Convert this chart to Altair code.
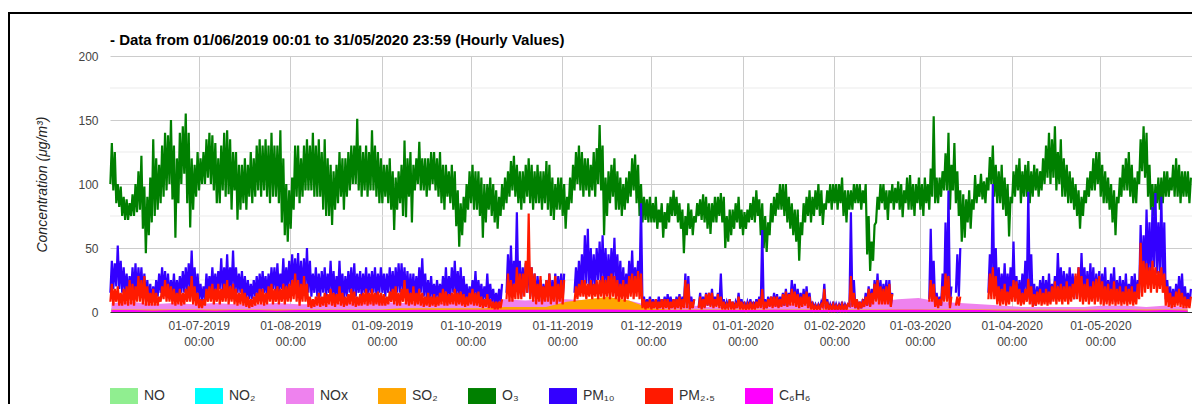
import altair as alt
import pandas as pd

TITLE = "- Data from 01/06/2019 00:01 to 31/05/2020 23:59 (Hourly Values)"
Y_TITLE = "Concentration (μg/m³)"
SERIES = ["NO", "NO₂", "NOx", "SO₂", "O₃", "PM₁₀", "PM₂.₅", "C₆H₆"]
COLORS = ["#90ee90", "#00ffff", "#ee82ee", "#ffa500", "#008000", "#3300ff", "#ff1a00", "#ff00ff"]
MONTH_TICKS = [(2019, 7), (2019, 8), (2019, 9), (2019, 10), (2019, 11), (2019, 12),
               (2020, 1), (2020, 2), (2020, 3), (2020, 4), (2020, 5)]
Y_MAJOR = [0, 50, 100, 150, 200]
Y_MINOR = [25, 75, 125, 175]
N = None

# ---- daily low / high envelopes of the hourly values (Jun 2019 ... May 2020) ----
O3_LO = [
    100, 95, 85, 82, 75, 72, 72, 75, 75, 78, 80, 65, 46, 60, 70, 75, 80, 85, 90, 95, 100, 88, 58, 85, 100, 108, 85, 66, 80, 90,
    95, 100, 100, 105, 100, 95, 85, 85, 95, 90, 92, 80, 95, 72, 80, 85, 80, 90, 85, 90, 95, 90, 95, 90, 85, 90, 90, 85, 70, 60, 55,
    65, 80, 90, 85, 90, 95, 95, 95, 90, 90, 90, 80, 75, 75, 68, 80, 85, 90, 80, 90, 95, 100, 100, 95, 90, 95, 90, 95, 95, 90, 85,
    85, 90, 85, 80, 64, 80, 85, 75, 74, 90, 70, 95, 100, 95, 95, 90, 95, 100, 95, 90, 85, 80, 90, 85, 80, 67, 51, 60, 70, 80,
    85, 80, 80, 75, 58, 70, 80, 75, 70, 65, 75, 80, 85, 90, 95, 90, 85, 80, 85, 90, 85, 80, 85, 85, 80, 85, 80, 75, 72, 80, 80,
    75, 65, 80, 85, 95, 100, 95, 90, 95, 90, 95, 90, 100, 95, 60, 75, 85, 90, 80, 80, 75, 80, 85, 90, 95, 85, 75, 70, 72, 70,
    70, 70, 65, 70, 58, 65, 70, 75, 75, 70, 65, 46, 60, 65, 60, 70, 75, 72, 70, 65, 61, 70, 70, 75, 70, 50, 55, 60, 65, 70, 65,
    60, 65, 70, 72, 70, 75, 60, 50, 47, 60, 70, 75, 80, 80, 75, 70, 65, 60, 55, 40, 60, 70, 75, 70, 75, 80, 75, 68, 80, 85, 80,
    85, 80, 85, 75, 70, 80, 80, 85, 85, 80, 85, 45, 32, 40, 70, 80, 85, 80, 72, 85, 80, 85, 80, 74, 85, 80, 80, 75, 85,
    80, 75, 85, 80, 90, 85, 85, 90, 95, 95, 80, 95, 85, 75, 55, 58, 70, 65, 80, 85, 90, 88, 85, 95, 100, 90, 85, 85, 80, 75, 59,
    85, 90, 95, 85, 90, 90, 85, 90, 95, 90, 95, 100, 105, 100, 105, 95, 100, 90, 90, 85, 85, 80, 75, 65, 75, 85, 90, 95, 95, 100,
    90, 85, 85, 80, 70, 60, 85, 90, 95, 95, 90, 85, 85, 100, 110, 105, 90, 80, 75, 85, 80, 85, 90, 90, 95, 90, 90, 85, 90, 90, 85,
]
O3_HI = [
    132, 125, 100, 98, 90, 88, 85, 92, 100, 110, 122, 98, 90, 105, 135, 120, 115, 130, 140, 138, 150, 130, 120, 140, 145, 155, 140, 120, 115, 125,
    120, 125, 135, 140, 138, 132, 120, 130, 140, 142, 135, 125, 125, 115, 115, 120, 115, 125, 120, 130, 135, 130, 135, 130, 140, 130, 130, 142, 120, 100, 95,
    105, 130, 130, 120, 130, 135, 130, 140, 130, 135, 125, 135, 120, 115, 110, 115, 125, 120, 120, 125, 130, 130, 151, 130, 125, 130, 125, 142, 130, 125, 120,
    115, 115, 120, 110, 105, 110, 115, 134, 120, 125, 115, 120, 133, 120, 120, 120, 125, 125, 120, 125, 115, 115, 110, 115, 110, 95, 85, 90, 100, 110,
    115, 110, 110, 105, 100, 100, 105, 100, 95, 90, 100, 105, 110, 118, 122, 115, 110, 110, 115, 120, 115, 110, 115, 110, 110, 118, 115, 105, 100, 105, 105,
    100, 90, 105, 115, 125, 130, 125, 120, 120, 115, 125, 128, 146, 130, 105, 110, 115, 120, 110, 105, 100, 105, 110, 120, 123, 115, 100, 90, 88, 90,
    85, 90, 80, 85, 78, 85, 90, 95, 90, 85, 80, 75, 85, 80, 75, 85, 88, 92, 90, 85, 85, 90, 90, 93, 90, 75, 80, 80, 85, 90, 80,
    78, 80, 85, 90, 95, 88, 85, 75, 70, 85, 90, 93, 100, 100, 100, 90, 85, 80, 80, 70, 85, 90, 95, 90, 95, 100, 95, 85, 95, 100, 100,
    100, 100, 105, 95, 95, 95, 100, 100, 100, 95, 100, 75, 55, 68, 90, 100, 100, 95, 95, 100, 97, 102, 100, 95, 105, 107, 100, 100, 105,
    100, 105, 100, 112, 153, 105, 105, 110, 124, 140, 115, 132, 110, 95, 92, 88, 95, 88, 107, 100, 108, 102, 105, 121, 130, 115, 110, 115, 105, 100, 90,
    110, 115, 120, 110, 115, 118, 110, 115, 112, 110, 120, 130, 140, 135, 145, 125, 135, 120, 115, 110, 105, 100, 95, 90, 95, 105, 110, 120, 125, 125,
    115, 110, 105, 100, 95, 90, 105, 115, 120, 125, 115, 105, 110, 135, 145, 140, 115, 100, 100, 105, 105, 110, 110, 105, 115, 120, 115, 110, 110, 110, 105,
]
PM10_LO = [
    15, 18, 20, 18, 15, 15, 12, 15, 15, 12, 15, 12, 10, 8, 8, 10, 12, 15, 15, 12, 10, 12, 10, 12, 15, 15, 15, 18, 15, 12,
    10, 8, 10, 15, 15, 15, 15, 18, 15, 18, 15, 18, 15, 15, 15, 12, 10, 10, 10, 12, 12, 15, 15, 12, 15, 18, 15, 15, 18, 15, 18,
    20, 20, 18, 15, 15, 18, 15, 12, 15, 12, 12, 15, 12, 15, 12, 10, 12, 12, 10, 12, 15, 12, 12, 15, 12, 15, 12, 15, 15, 12, 15,
    15, 12, 15, 15, 12, 15, 15, 15, 12, 10, 12, 10, 12, 15, 12, 10, 10, 10, 10, 10, 10, 12, 10, 12, 15, 12, 12, 10, 10, 8,
    10, 12, 10, 10, 8, 10, 8, 8, 6, 5, 8, N, 15, 15, 15, 20, 15, 12, 15, 15, 12, 12, 10, 12, 8, 10, 12, 10, 12, 10, 12,
    10, N, N, N, 15, 15, 18, 20, 22, 20, 18, 20, 25, 22, 20, 18, 20, 25, 20, 15, 12, 12, 15, 18, 15, 18, 20, 5, 3, 4,
    3, 4, 3, 4, 5, 4, 5, 4, 3, 5, 4, 5, 5, 3, 4, N, 4, 3, 4, 5, 5, 4, 5, 5, 3, 3, 4, 3, 3, 4, 3,
    3, 3, 4, 3, 3, 5, 5, 4, 3, 5, 5, 5, 4, 5, 5, 5, 8, 8, 6, 5, 5, 6, 5, 3, 3, 3, 3, 5, 3, 2, 2,
    2, 2, 3, 2, 3, 5, 5, 3, 3, 3, 5, 5, 5, 8, 10, 8, 8, 10, 8, 5, N, N, N, N, N, N, N, N, N,
    N, N, N, 10, 10, 5, 5, 5, 10, 10, 5, N, 15, 12, N, N, N, N, N, N, N, N, N, 15, 20, 15, 10, 10, 12, 10, 12,
    15, 10, 8, 10, 12, 15, 10, 6, 5, 8, 10, 8, 10, 8, 10, 12, 15, 12, 10, 15, 12, 10, 15, 12, 15, 12, 12, 15, 10, 12,
    10, 12, 8, 10, 10, 8, 10, 8, 10, 8, 10, 12, 10, 15, 25, 25, 30, 25, 35, 30, 30, 25, 10, 8, 5, 6, 8, 10, 6, 5, 5,
]
PM10_HI = [
    40, 38, 52, 40, 35, 30, 28, 35, 38, 35, 35, 30, 25, 22, 20, 25, 30, 35, 32, 30, 25, 30, 25, 28, 32, 35, 38, 48, 35, 30,
    22, 20, 30, 28, 35, 30, 32, 42, 35, 45, 35, 48, 35, 30, 32, 28, 25, 22, 25, 28, 30, 32, 28, 30, 35, 35, 38, 30, 42, 35, 40,
    45, 42, 46, 40, 42, 50, 40, 30, 35, 30, 32, 35, 30, 40, 32, 28, 40, 30, 28, 32, 35, 38, 30, 32, 30, 35, 30, 32, 35, 30, 35,
    30, 30, 35, 32, 35, 38, 38, 35, 32, 30, 30, 28, 35, 42, 30, 25, 28, 22, 25, 22, 28, 35, 28, 35, 40, 32, 35, 28, 22, 20,
    25, 32, 25, 22, 20, 30, 22, 18, 15, 18, 22, N, 45, 52, 40, 78, 40, 35, 38, 45, 35, 30, 28, 25, 22, 25, 30, 25, 30, 28, 30,
    30, N, N, N, 35, 40, 45, 60, 65, 50, 45, 50, 55, 60, 50, 45, 50, 58, 45, 40, 35, 30, 40, 48, 35, 40, 85, 12, 10, 12,
    10, 10, 12, 10, 12, 14, 12, 10, 12, 14, 12, 30, 28, 12, 10, N, 15, 12, 15, 15, 18, 12, 15, 30, 10, 8, 10, 8, 8, 15, 10,
    8, 8, 10, 8, 10, 12, 64, 10, 12, 12, 15, 14, 12, 15, 18, 15, 25, 22, 18, 15, 18, 20, 15, 8, 6, 6, 8, 22, 10, 6, 8,
    6, 6, 8, 6, 6, 78, 25, 10, 8, 10, 15, 20, 18, 25, 30, 25, 22, 25, 25, 15, N, N, N, N, N, N, N, N, N,
    N, N, N, 65, 40, 15, 12, 30, 70, 95, 20, N, 45, 50, N, N, N, N, N, N, N, N, N, 45, 100, 50, 35, 30, 38, 30, 35,
    55, 28, 25, 30, 40, 94, 45, 22, 20, 25, 28, 25, 30, 22, 28, 46, 35, 32, 30, 35, 30, 28, 35, 46, 35, 32, 38, 35, 30, 32,
    30, 35, 25, 30, 35, 25, 28, 25, 30, 22, 28, 30, 25, 68, 60, 80, 70, 82, 93, 70, 90, 70, 25, 20, 18, 22, 28, 30, 20, 15, 18,
]
PM25_LO = [
    8, 5, 8, 5, 5, 6, 5, 6, 5, 8, 8, 6, 5, 5, 5, 5, 5, 8, 10, 8, 8, 6, 5, 6, 5, 6, 8, 8, 6, 5,
    3, 3, 5, 8, 8, 6, 8, 6, 8, 8, 6, 8, 6, 5, 6, 5, 4, 3, 4, 5, 6, 6, 5, 6, 8, 6, 8, 6, 8, 6, 8,
    8, 10, 8, 5, 8, 8, 4, 3, 4, 5, 4, 5, 4, 6, 5, 4, 6, 5, 4, 5, 6, 5, 4, 5, 5, 6, 5, 6, 5, 6, 5,
    5, 5, 6, 8, 6, 5, 5, 8, 6, 5, 6, 5, 6, 5, 4, 5, 4, 5, 4, 5, 6, 5, 5, 6, 6, 5, 6, 5, 4, 5,
    6, 5, 5, 4, 3, 4, 3, 3, 2, 2, 3, N, 10, 8, 8, 10, 10, 10, 12, 15, 10, 8, 6, 8, 6, 8, 8, 6, 8, 6, 8,
    6, N, N, N, 8, 10, 12, 12, 10, 12, 10, 12, 10, 12, 10, 12, 10, 12, 10, 8, 10, 8, 10, 12, 10, 12, 10, 3, 2, 3,
    2, 3, 2, 3, 2, 3, 2, 3, 2, 3, 2, 3, 3, 2, 3, N, 3, 2, 3, 5, 4, 3, 4, 3, 2, 2, 3, 2, 2, 3, 2,
    2, 2, 2, 2, 2, 3, 3, 2, 3, 4, 3, 4, 3, 4, 5, 4, 5, 5, 4, 3, 4, 5, 3, 2, 2, 2, 2, 4, 2, 2, 2,
    2, 2, 2, 2, 2, 5, 4, 3, 2, 3, 4, 5, 4, 6, 8, 6, 6, 6, 6, 4, N, N, N, N, N, N, N, N, N,
    N, N, N, 8, 8, 4, 3, 5, 8, 8, 3, N, 5, 5, N, N, N, N, N, N, N, N, N, 10, 10, 10, 6, 5, 6, 5, 6,
    8, 8, 6, 5, 6, 8, 6, 4, 5, 6, 5, 6, 5, 6, 8, 6, 8, 6, 8, 6, 8, 10, 10, 8, 6, 8, 6, 8, 6, 8,
    6, 5, 6, 5, 6, 5, 6, 5, 6, 5, 6, 5, 6, 10, 12, 15, 18, 15, 18, 15, 18, 15, 5, 4, 3, 4, 5, 4, 3, 3, 3,
]
PM25_HI = [
    22, 18, 20, 15, 18, 20, 25, 22, 20, 28, 25, 28, 20, 15, 18, 15, 12, 20, 25, 22, 20, 18, 15, 18, 15, 18, 20, 28, 20, 15,
    10, 10, 18, 20, 22, 18, 22, 18, 22, 25, 20, 22, 18, 15, 18, 15, 12, 10, 12, 15, 18, 18, 15, 20, 22, 18, 20, 18, 22, 20, 22,
    25, 30, 25, 22, 28, 22, 12, 10, 12, 15, 12, 15, 14, 18, 15, 14, 20, 15, 12, 14, 18, 16, 12, 14, 15, 18, 15, 18, 15, 16, 15,
    14, 12, 16, 18, 20, 15, 18, 25, 18, 15, 20, 15, 18, 15, 12, 15, 12, 14, 12, 15, 18, 16, 14, 15, 18, 15, 16, 14, 12, 15,
    18, 15, 16, 12, 10, 14, 10, 8, 8, 8, 10, N, 30, 25, 22, 35, 30, 30, 40, 77, 35, 30, 22, 28, 20, 25, 30, 20, 28, 22, 25,
    25, N, N, N, 20, 22, 25, 25, 22, 25, 22, 25, 25, 28, 25, 28, 30, 28, 25, 22, 25, 22, 28, 30, 28, 32, 30, 10, 8, 10,
    8, 10, 8, 10, 10, 10, 8, 10, 10, 12, 10, 25, 22, 8, 10, N, 12, 10, 14, 15, 15, 10, 14, 12, 8, 6, 10, 8, 6, 12, 8,
    6, 6, 8, 6, 8, 10, 18, 8, 10, 12, 12, 12, 10, 14, 16, 14, 18, 16, 14, 12, 14, 16, 12, 6, 5, 5, 6, 18, 8, 5, 6,
    5, 5, 6, 5, 6, 28, 15, 10, 8, 8, 12, 18, 15, 22, 25, 20, 18, 20, 22, 14, N, N, N, N, N, N, N, N, N,
    N, N, N, 25, 22, 12, 10, 20, 30, 28, 12, N, 12, 12, N, N, N, N, N, N, N, N, N, 30, 35, 28, 20, 18, 22, 16, 20,
    25, 24, 18, 15, 18, 26, 20, 14, 16, 18, 15, 18, 16, 20, 24, 20, 22, 20, 24, 20, 22, 30, 35, 28, 22, 26, 20, 24, 26, 28,
    24, 20, 22, 18, 24, 18, 20, 16, 20, 18, 20, 16, 22, 54, 40, 38, 35, 40, 35, 32, 35, 30, 20, 15, 12, 16, 18, 15, 12, 10, 12,
]

# ---- weekly upper envelopes of the small series (lower envelope is ~0) ----
NO_HI = [2, 2, 1, 2, 2, 1, 2, 2, 1, 2, 2, 2, 2, 2, 2, 3, 2, 3, 3, 3, 3, 3, 4, 4, 4, 3, 2, 2, 2, 2, 2, 2, 3, 2, 2, 2, 2, 2, 3, 3,
         2, 2, 2, 1, 1, 1, 1, 1, 2, 2, 1, 2, 1]
NO2_HI = [3, 3, 2, 3, 3, 2, 3, 3, 2, 3, 3, 3, 3, 3, 3, 4, 3, 4, 4, 5, 5, 5, 6, 6, 6, 5, 3, 3, 3, 3, 3, 3, 4, 3, 3, 3, 3, 4, 5, 5,
          4, 3, 3, 2, 2, 2, 2, 2, 3, 3, 2, 3, 2]
NOX_HI = [7, 8, 6, 7, 6, 7, 6, 6, 7, 6, 6, 7, 7, 8, 7, 8, 7, 8, 9, 10, 9, 10, 10, 9, 10, 9, 5, 4, 5, 4, 4, 5, 8, 6, 5, 6, 7, 8, 10, 11,
          8, 7, 6, 5, 4, 4, 4, 4, 5, 5, 4, 5, 4]
SO2_HI = [2, 2, 2, 2, 2, 2, 2, 2, 2, 2, 2, 2, 2, 2, 3, 3, 3, 3, 3, 4, 4, 4, 8, 10, 12, 9, 3, 2, 2, 2, 2, 2, 2, 2, 2, 2, 2, 2, 2, 2,
          2, 2, 2, 2, 2, 2, 2, 2, 2, 2, 2, 2, 2]
C6H6_HI = [1.5, 1.5, 1.2, 1.5, 1.5, 1.2, 1.5, 1.5, 1.2, 1.5, 1.5, 1.5, 1.5, 1.5, 1.5, 1.8, 1.5, 1.8, 1.8, 1.8, 1.8, 1.8, 2, 2, 2,
           1.8, 1.5, 1.5, 1.5, 1.5, 1.5, 1.5, 1.8, 1.5, 1.5, 1.5, 1.5, 1.5, 1.8, 1.8, 1.5, 1.5, 1.5, 1.2, 1.2, 1.2, 1.2, 1.2,
           1.5, 1.5, 1.2, 1.5, 1.2]

START = pd.Timestamp("2019-06-01 00:00")
WEEKLY = pd.date_range("2019-06-01 12:00", periods=len(NOX_HI), freq="7D")


def band(name, dates, hi):
    """Small series: filled band from 0 up to the weekly upper envelope."""
    return pd.DataFrame({"date": dates, "lo": 0.0, "hi": pd.to_numeric(pd.Series(hi, dtype=object)),
                         "series": name})


def trace(name, lo, hi):
    """Dense hourly trace: the read daily low and high, visited in turn within each day."""
    rows = []
    seg = 0
    for d, (a, b) in enumerate(zip(lo, hi)):
        if a is None or b is None:
            seg += 1
            continue
        day = START + pd.Timedelta(days=d)
        rows.append({"date": day + pd.Timedelta(hours=3), "v": a, "seg": seg, "series": name})
        rows.append({"date": day + pd.Timedelta(hours=15), "v": b, "seg": seg, "series": name})
    return pd.DataFrame(rows)


bands = {
    "NO": band("NO", WEEKLY, NO_HI),
    "NO₂": band("NO₂", WEEKLY, NO2_HI),
    "NOx": band("NOx", WEEKLY, NOX_HI),
    "SO₂": band("SO₂", WEEKLY, SO2_HI),
    "C₆H₆": band("C₆H₆", WEEKLY, C6H6_HI),
}
traces = {
    "O₃": trace("O₃", O3_LO, O3_HI),
    "PM₁₀": trace("PM₁₀", PM10_LO, PM10_HI),
    "PM₂.₅": trace("PM₂.₅", PM25_LO, PM25_HI),
}

FONT = "Liberation Sans"

x_enc = alt.X(
    "date:T",
    scale=alt.Scale(domain=[alt.DateTime(year=2019, month=6, date=1),
                            alt.DateTime(year=2020, month=6, date=1)]),
    axis=alt.Axis(
        values=[alt.DateTime(year=y, month=m, date=1) for y, m in MONTH_TICKS],
        labelExpr="[timeFormat(datum.value, '%d-%m-%Y'), '00:00']",
        labelFont=FONT, labelFontSize=12, labelColor="#444444", labelPadding=8,
        labelLineHeight=16, labelOverlap=False, labelFlush=False, labelAlign="center",
        ticks=False, domain=True, domainColor="#333333", domainWidth=1,
        grid=True, gridColor="#cccccc", title=None,
    ),
)
y_axis = alt.Axis(
    values=Y_MAJOR, labelFont=FONT, labelFontSize=12, labelColor="#444444", labelPadding=12,
    ticks=False, domain=False, grid=True, gridColor="#cccccc",
    title=Y_TITLE, titleFont=FONT, titleFontSize=14, titleFontStyle="italic", titleFontWeight="normal",
    titleColor="#222222", titleX=-68, titleY=128, titleAngle=270, titleAlign="center", titleBaseline="middle",
)
y_scale = alt.Scale(domain=[0, 200], nice=False)
color_scale = alt.Scale(domain=SERIES, range=COLORS)
legend = alt.Legend(
    title=None, orient="none", legendX=0, legendY=326, direction="horizontal",
    symbolType="M-1,-0.57L1,-0.57L1,0.57L-1,0.57Z", symbolSize=784, symbolStrokeWidth=0,
    symbolOpacity=1, labelFont=FONT, labelFontSize=14, labelColor="#333333", labelOffset=6,
    columnPadding=30, padding=0,
)

minor = alt.Chart(pd.DataFrame({"v": Y_MINOR})).mark_rule(color="#ebebeb", strokeWidth=1).encode(
    y=alt.Y("v:Q", scale=y_scale, axis=y_axis)
)


def band_layer(name):
    return alt.Chart(bands[name]).mark_area(opacity=1).encode(
        x=x_enc,
        y=alt.Y("lo:Q", scale=y_scale, axis=y_axis),
        y2="hi:Q",
        color=alt.Color("series:N", scale=color_scale, legend=legend),
    )


def trace_layer(name):
    return alt.Chart(traces[name]).mark_line(strokeWidth=2.2, interpolate="linear").encode(
        x=x_enc,
        y=alt.Y("v:Q", scale=y_scale, axis=y_axis),
        color=alt.Color("series:N", scale=color_scale, legend=None),
        detail="seg:N",
    )


layers = [minor]
for name in SERIES:
    layers.append(band_layer(name) if name in bands else trace_layer(name))

frame_df = pd.DataFrame({"a": [0]})
frame_left = alt.Chart(frame_df).mark_rule(color="#000000", strokeWidth=2).encode(
    x=alt.value(-101), y=alt.value(-44), y2=alt.value(360)
)
frame_top = alt.Chart(frame_df).mark_rule(color="#000000", strokeWidth=2).encode(
    x=alt.value(-102), x2=alt.value(1082), y=alt.value(-43)
)
title = alt.Chart(frame_df).mark_text(
    text=TITLE, align="left", baseline="alphabetic", font=FONT, fontSize=15,
    fontWeight="bold", color="#000000",
).encode(x=alt.value(0), y=alt.value(-11))
layers += [frame_left, frame_top, title]

chart = alt.layer(*layers).properties(
    width=1082,
    height=256,
    autosize=alt.AutoSizeParams(type="none"),
    padding={"left": 102, "top": 48, "right": 0, "bottom": 92},
).configure_view(stroke=None)

chart.save("out.html", embed_options={"renderer": "svg", "actions": False})
